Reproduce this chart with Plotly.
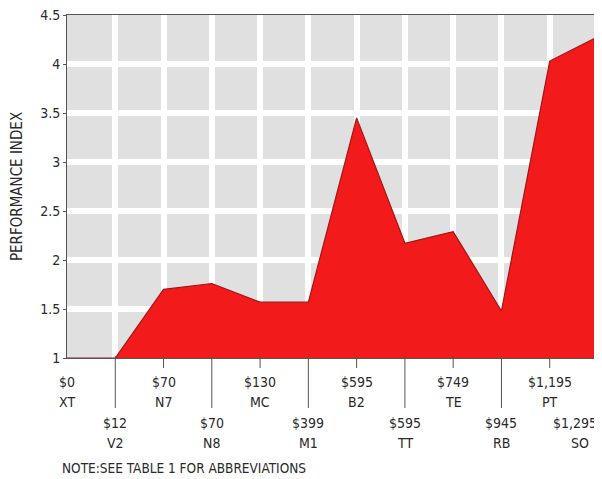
import plotly.graph_objects as go

# ---- data ----
codes = ["XT", "V2", "N7", "N8", "MC", "M1", "B2", "TT", "TE", "RB", "PT", "SO"]
prices = ["$0", "$12", "$70", "$70", "$130", "$399", "$595", "$595", "$749", "$945", "$1,195", "$1,295"]
perf = [1.0, 1.0, 1.70, 1.76, 1.57, 1.57, 3.45, 2.17, 2.29, 1.48, 4.03, 4.28]
y_ticks = [1, 1.5, 2, 2.5, 3, 3.5, 4, 4.5]
y_tick_text = ["1", "1.5", "2", "2.5", "3", "3.5", "4", "4.5"]

FONT = "DejaVu Sans Condensed, Liberation Sans Narrow, Arial Narrow, sans-serif"
TXT = "#2a2a2a"

idx = list(range(len(codes)))
last = len(codes) - 1

fig = go.Figure()
fig.add_trace(go.Scatter(
    x=idx, y=perf, mode="lines", fill="tozeroy",
    fillcolor="#f21a1a", line=dict(color="#a81414", width=1.2),
    hoverinfo="skip", showlegend=False,
))

PLOT_H = 343.0

shapes = []
annotations = []
for i, (c, p) in enumerate(zip(codes, prices)):
    lower = (i % 2 == 1)
    if i > 0:
        tick_len = 50 if lower else 10
        shapes.append(dict(type="line", xref="x", yref="paper",
                           x0=i, x1=i, y0=2 / PLOT_H, y1=-tick_len / PLOT_H,
                           line=dict(color="#555555", width=1)))
    off = 65 if lower else 24
    if i == last:
        p_anchor, p_shift, c_shift = "right", 1, -18
    else:
        p_anchor, p_shift, c_shift = "center", 0, 0
    annotations.append(dict(x=i, xref="x", xshift=p_shift, y=0, yref="paper", yshift=-off,
                            text=p, showarrow=False, yanchor="middle",
                            xanchor=p_anchor, font=dict(family=FONT, size=14, color=TXT)))
    annotations.append(dict(x=i, xref="x", xshift=c_shift, y=0, yref="paper", yshift=-(off + 20),
                            text=c, showarrow=False, yanchor="middle",
                            xanchor="center", font=dict(family=FONT, size=14, color=TXT)))

annotations.append(dict(x=0, xref="paper", xshift=-7, xanchor="left",
                        y=0, yref="paper", yshift=-110, yanchor="middle",
                        text="NOTE:SEE TABLE 1 FOR ABBREVIATIONS", showarrow=False,
                        font=dict(family=FONT, size=13.5, color=TXT)))

fig.update_layout(
    width=594, height=471,
    margin=dict(l=59, r=4, t=7, b=121),
    paper_bgcolor="white",
    plot_bgcolor="#e0e0e0",
    shapes=shapes,
    annotations=annotations,
    xaxis=dict(
        range=[0, 11], showticklabels=False, automargin=False,
        tickvals=list(range(1, 11)), ticks="",
        showgrid=True, gridcolor="white", gridwidth=6,
        showline=True, linecolor="#555555", linewidth=1, mirror=True,
        zeroline=False, layer="below traces",
    ),
    yaxis=dict(
        range=[1, 4.5], tickvals=y_ticks, ticktext=y_tick_text,
        ticks="outside", ticklen=3, tickcolor="#555555",
        tickfont=dict(family=FONT, size=14, color=TXT),
        ticklabeloverflow="allow", automargin=False,
        showgrid=False,
        minor=dict(tickvals=[1.5, 2, 2.5, 3, 3.5, 4], showgrid=True,
                   gridcolor="white", gridwidth=6, ticks=""),
        showline=True, linecolor="#555555", linewidth=1, mirror=True,
        zeroline=False,
        title=dict(text="PERFORMANCE INDEX", standoff=14,
                   font=dict(family=FONT, size=15, color=TXT)),
    ),
)

fig.write_html("out.html")
